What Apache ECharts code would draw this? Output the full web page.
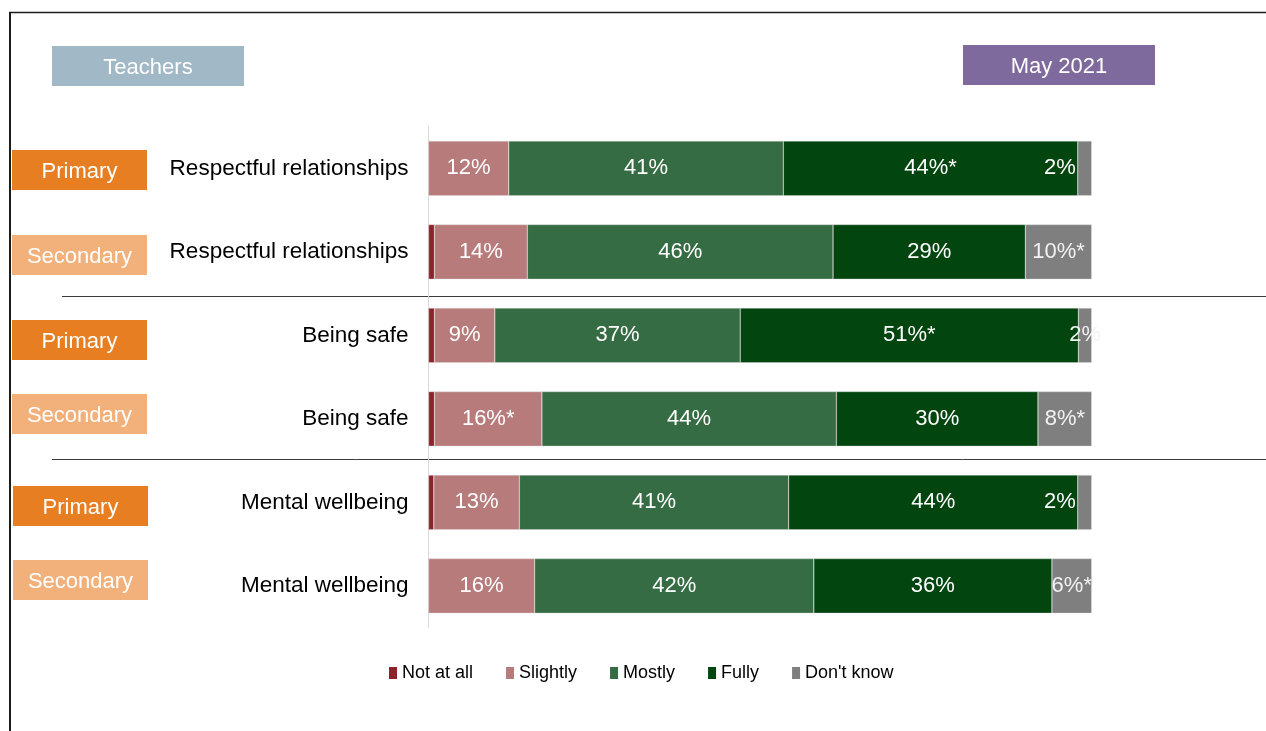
<!DOCTYPE html>
<html>
<head>
<meta charset="utf-8">
<script src="https://cdn.jsdelivr.net/npm/echarts/dist/echarts.min.js"></script>
<style>
  html, body { margin: 0; padding: 0; background: #ffffff; }
  #chart { width: 1266px; height: 731px; }
</style>
</head>
<body>
<div id="chart"></div>
<script>
// Survey rows, top to bottom
const categories = ['Respectful relationships', 'Respectful relationships', 'Being safe', 'Being safe', 'Mental wellbeing', 'Mental wellbeing'];
const phases = ['Primary', 'Secondary', 'Primary', 'Secondary', 'Primary', 'Secondary'];
const seriesNames = ['Not at all', 'Slightly', 'Mostly', 'Fully', "Don't know"];

// Share of teachers (%) per response
const notAtAll = [0, 0.9, 0.9, 0.9, 0.8, 0];
const slightly = [12.1, 14.0, 9.1, 16.2, 12.9, 16.0];
const mostly   = [41.4, 46.1, 37.0, 44.4, 40.6, 42.1];
const fully    = [44.4, 29.0, 51.0, 30.4, 43.6, 35.9];
const dontKnow = [2.1, 10.0, 2.0, 8.1, 2.1, 6.0];

// Significant change markers (*) per response
const slightlyStar = [false, false, false, true, false, false];
const mostlyStar   = [false, false, false, false, false, false];
const fullyStar    = [true, false, true, false, false, false];
const dontKnowStar = [false, true, false, true, false, true];

const FONT = "'Liberation Sans', Arial, sans-serif";
const colors = ['#8c232a', '#b87b7c', '#356c43', '#03450f', '#7f7f7f'];

function pctLabel(stars) {
  return function (p) {
    return Math.round(p.value) + '%' + (stars[p.dataIndex] ? '*' : '');
  };
}

// Rows where the narrow "Don't know" label sits just left of its segment
const dkLeftRows = [0, 4];

function makeSeries(name, values, color, stars, labelColor) {
  const s = {
    name: name,
    type: 'bar',
    stack: 'total',
    barWidth: '65.5%',
    itemStyle: { color: color, borderColor: 'rgba(220,220,220,0.7)', borderWidth: 0.5 },
    emphasis: { disabled: true },
    data: values.map(function (v, i) {
      if (name === "Don't know" && dkLeftRows.indexOf(i) >= 0) {
        return { value: v, label: { position: 'left', distance: 2, color: '#ffffff' } };
      }
      return v;
    })
  };
  if (stars) {
    s.label = {
      show: true,
      position: 'inside',
      color: labelColor || '#ffffff',
      fontSize: 22,
      fontFamily: FONT,
      formatter: pctLabel(stars)
    };
  } else {
    s.label = { show: false };
  }
  return s;
}

const chart = echarts.init(document.getElementById('chart'), null, { renderer: 'canvas' });

// Primary / Secondary tags beside each row
const tagTops = [150, 235, 320, 394, 486, 560];
const tagLefts = [12, 12, 12, 12, 13, 13];
const tagColor = { Primary: '#e77e22', Secondary: '#f2b07a' };

const graphics = [];
// outer frame
graphics.push({ type: 'line', shape: { x1: 10, y1: 12, x2: 10, y2: 731 }, style: { stroke: '#1c1c1c', lineWidth: 2 } });
graphics.push({ type: 'line', shape: { x1: 9, y1: 12.5, x2: 1266, y2: 12.5 }, style: { stroke: '#1c1c1c', lineWidth: 1.5 } });
// group separators
graphics.push({ type: 'line', shape: { x1: 62, y1: 296.5, x2: 1266, y2: 296.5 }, style: { stroke: '#3a3a3a', lineWidth: 1 } });
graphics.push({ type: 'line', shape: { x1: 52, y1: 459.5, x2: 1266, y2: 459.5 }, style: { stroke: '#3a3a3a', lineWidth: 1 } });

function boxWithText(x, y, w, h, fill, text) {
  graphics.push({ type: 'rect', shape: { x: x, y: y, width: w, height: h }, style: { fill: fill } });
  graphics.push({
    type: 'text', x: x + w / 2, y: y + h / 2 + 1.5,
    style: { text: text, fill: '#ffffff', font: '22px ' + FONT, align: 'center', verticalAlign: 'middle', textAlign: 'center', textVerticalAlign: 'middle' }
  });
}

boxWithText(52, 46, 192, 40, '#a1b8c7', 'Teachers');
boxWithText(963, 45, 192, 40, '#7e6a9d', 'May 2021');
phases.forEach(function (ph, i) {
  boxWithText(tagLefts[i], tagTops[i], 135, 40, tagColor[ph], ph);
});

chart.setOption({
  animation: false,
  backgroundColor: '#ffffff',
  textStyle: { fontFamily: FONT },
  grid: { left: 428.5, right: 174.3, top: 126.6, bottom: 103.3, containLabel: false },
  legend: {
    data: seriesNames,
    left: 389,
    top: 664,
    padding: 0,
    icon: 'rect',
    itemWidth: 8,
    itemHeight: 12,
    itemGap: 33,
    itemStyle: { borderWidth: 0 },
    textStyle: { fontSize: 18, color: '#000000', fontFamily: FONT },
    selectedMode: false
  },
  xAxis: {
    type: 'value',
    min: 0,
    max: 100,
    show: false
  },
  yAxis: {
    type: 'category',
    inverse: true,
    data: categories,
    axisLine: { show: true, lineStyle: { color: '#d9d9d9', width: 1 } },
    axisTick: { show: false },
    axisLabel: { fontSize: 22.5, color: '#000000', margin: 20, fontFamily: FONT }
  },
  series: [
    makeSeries('Not at all', notAtAll, colors[0], null),
    makeSeries('Slightly', slightly, colors[1], slightlyStar),
    makeSeries('Mostly', mostly, colors[2], mostlyStar),
    makeSeries('Fully', fully, colors[3], fullyStar),
    makeSeries("Don't know", dontKnow, colors[4], dontKnowStar, '#f2f2f2')
  ],
  graphic: { elements: graphics }
});
</script>
</body>
</html>
